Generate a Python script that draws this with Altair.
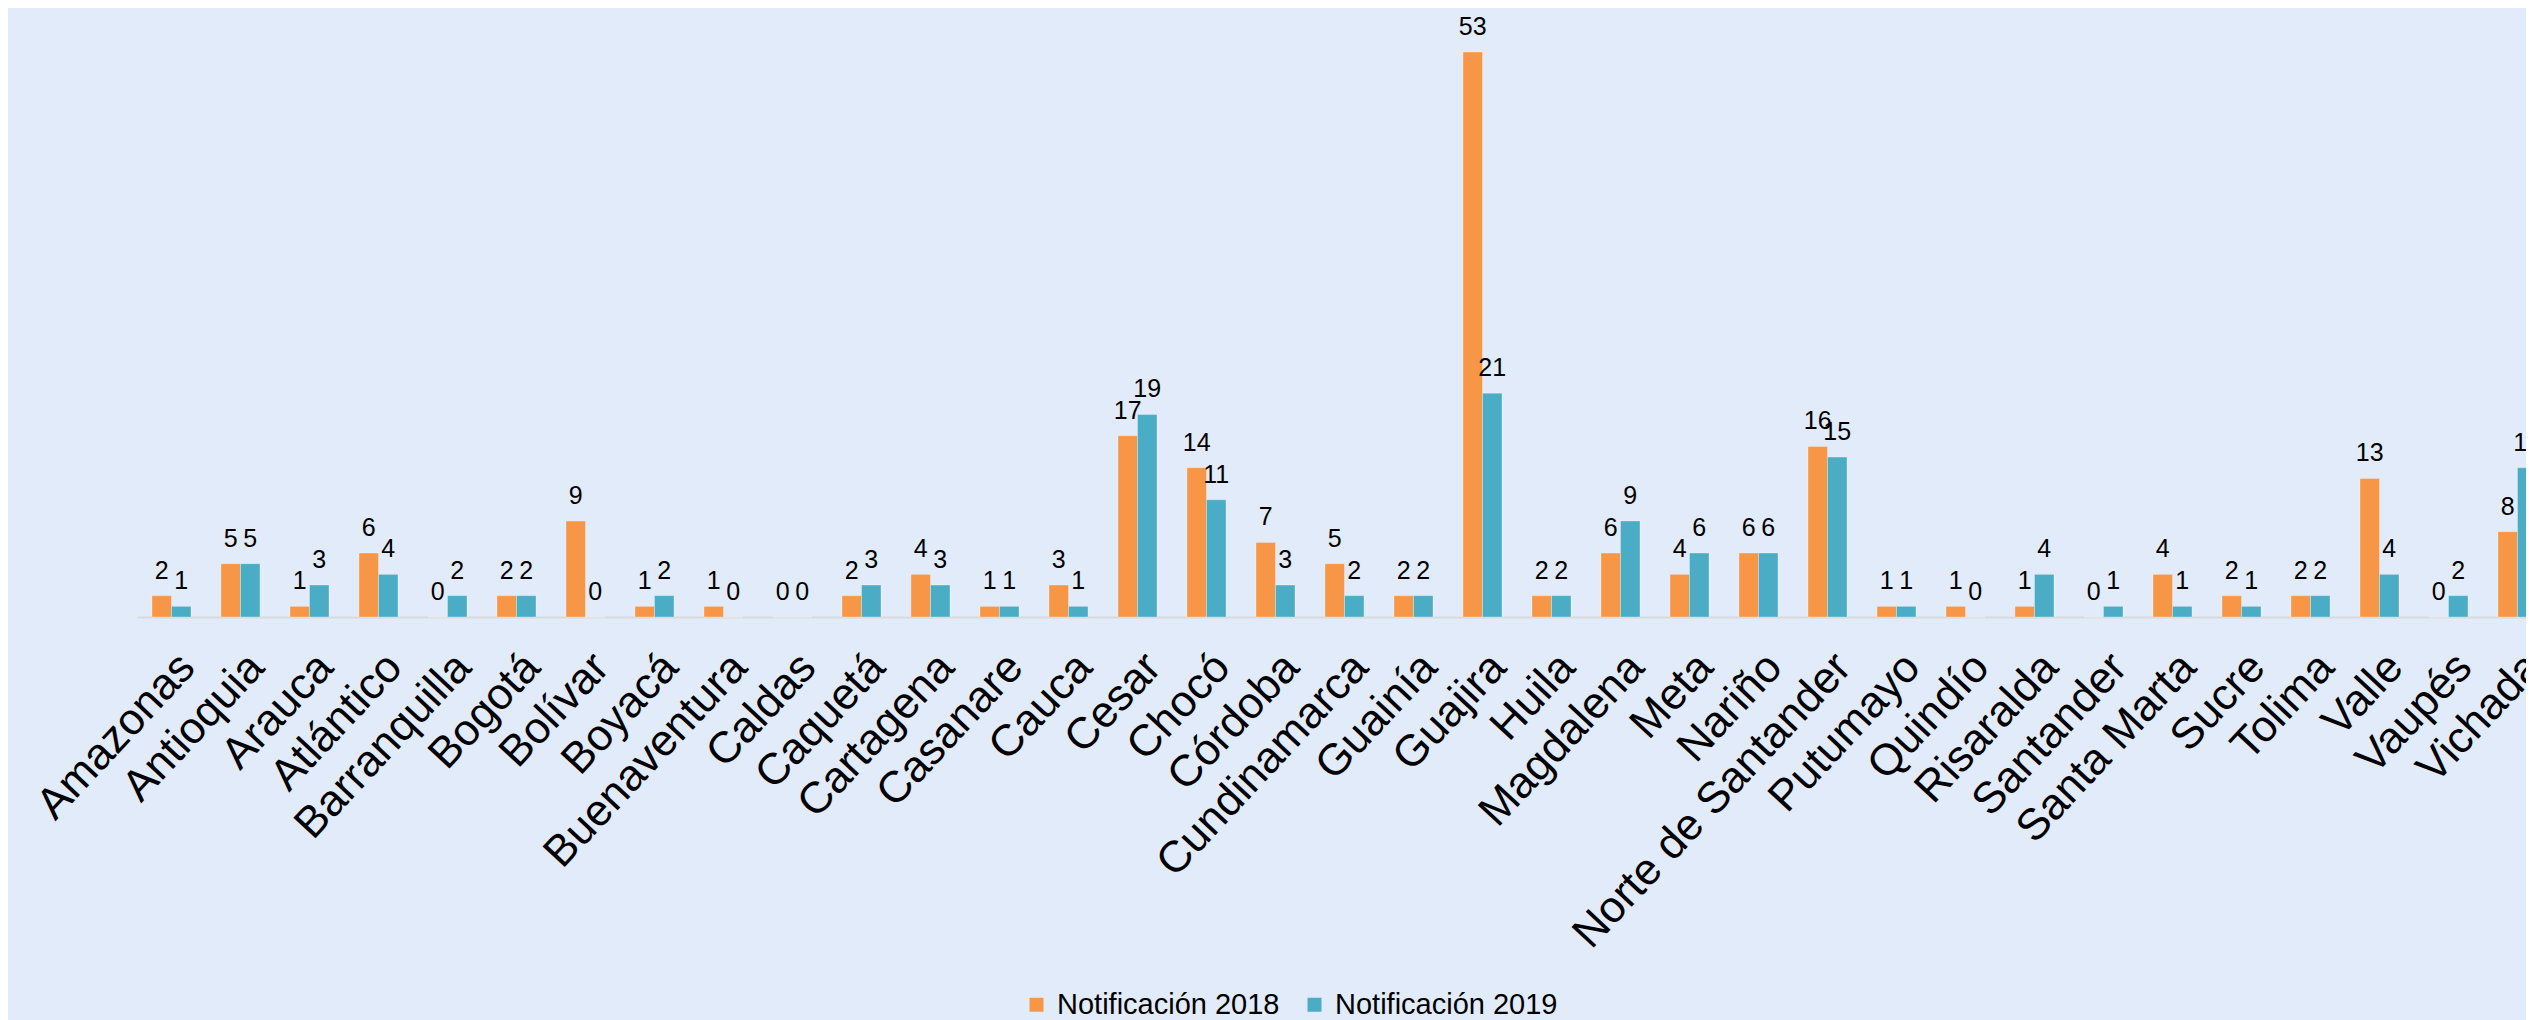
import altair as alt
import pandas as pd

regions = ["Amazonas", "Antioquia", "Arauca", "Atlántico", "Barranquilla", "Bogotá",
           "Bolívar", "Boyacá", "Buenaventura", "Caldas", "Caquetá", "Cartagena",
           "Casanare", "Cauca", "Cesar", "Chocó", "Córdoba", "Cundinamarca", "Guainía",
           "Guajira", "Huila", "Magdalena", "Meta", "Nariño", "Norte de Santander",
           "Putumayo", "Quindío", "Risaralda", "Santander", "Santa Marta", "Sucre",
           "Tolima", "Valle", "Vaupés", "Vichada"]
notif_2018 = [2, 5, 1, 6, 0, 2, 9, 1, 1, 0, 2, 4, 1, 3, 17, 14, 7, 5, 2, 53, 2, 6, 4, 6, 16,
              1, 1, 1, 0, 4, 2, 2, 13, 0, 8]
notif_2019 = [1, 5, 3, 4, 2, 2, 0, 2, 0, 0, 3, 3, 1, 1, 19, 11, 3, 2, 2, 21, 2, 9, 6, 6, 15,
              1, 0, 4, 1, 1, 1, 2, 4, 2, 14]
series = ["Notificación 2018", "Notificación 2019"]
colors = ["#F79646", "#4BACC6"]

rows = []
for r, a, b in zip(regions, notif_2018, notif_2019):
    rows.append({"Departamento": r, "Serie": series[0], "Valor": a})
    rows.append({"Departamento": r, "Serie": series[1], "Valor": b})
df = pd.DataFrame(rows)

x_enc = alt.X(
    "Departamento:N",
    sort=regions,
    scale=alt.Scale(range=[0, 2415], paddingInner=30 / 69, paddingOuter=15 / 69),
    axis=alt.Axis(
        title=None, labelAngle=-47, labelAlign="right", labelBaseline="top",
        labelFont="Liberation Sans", labelFontSize=44, labelColor="black",
        labelPadding=28, labelLimit=0, labelOverlap=False, labelBound=False,
        ticks=False, grid=False, domainColor="#D9D9D9", domainWidth=2,
    ),
)
xoff = alt.XOffset("Serie:N", sort=series, scale=alt.Scale(paddingInner=0, paddingOuter=0))
y_enc = alt.Y("Valor:Q", scale=alt.Scale(domain=[0, 57.13], nice=False, zero=True), axis=None)

bars = alt.Chart(df).mark_bar(stroke="white", strokeOpacity=0.3, strokeWidth=1).encode(
    x=x_enc,
    xOffset=xoff,
    y=y_enc,
    color=alt.Color(
        "Serie:N",
        scale=alt.Scale(domain=series, range=colors),
        legend=alt.Legend(
            title=None, orient="none", legendX=885, legendY=982,
            direction="horizontal", symbolType="square", symbolSize=196,
            symbolStrokeWidth=0, labelFont="Liberation Sans", labelLimit=0,
            labelFontSize=29, labelColor="black", columnPadding=20, labelOffset=6,
        ),
    ),
)

labels = alt.Chart(df).mark_text(
    baseline="alphabetic", dy=-17, fontSize=25, font="Liberation Sans", color="black"
).encode(
    x=x_enc,
    xOffset=xoff,
    y=y_enc,
    text=alt.Text("Valor:Q"),
)

chart = alt.layer(bars, labels).properties(
    width=2389,
    height=609,
    padding={"left": 129, "top": 0, "right": 0, "bottom": 403},
    autosize=alt.AutoSizeParams(type="none"),
    background="#E2EBFA",
).configure_view(stroke=None)

chart.save("out.html", embed_options={"renderer": "svg", "actions": False})
